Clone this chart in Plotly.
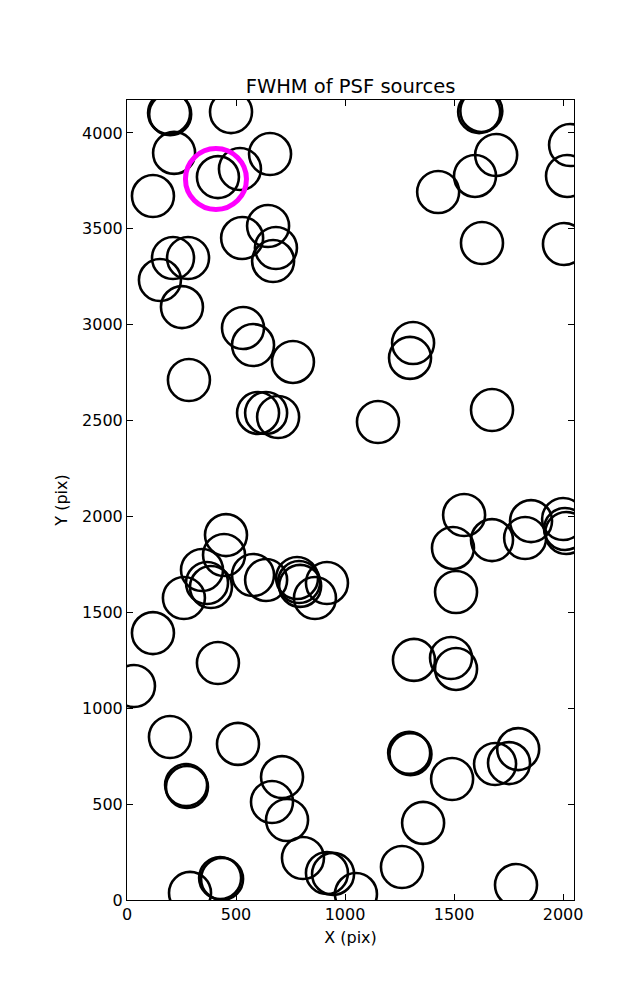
import plotly.graph_objects as go

# Source positions (pixels)
x_src = [193, 198, 477, 216, 119, 417, 518, 656, 211, 280, 151, 252, 528, 647, 683, 670,
         532, 578, 761, 284, 1615, 1625, 1693, 1596, 1427, 1628, 2032, 2018, 2004, 1312, 1298,
         601, 638, 693, 1151, 1674,
         454, 445, 344, 367, 385, 261, 578, 638, 780, 789, 794, 917, 862,
         1546, 1495, 1674, 1853, 1826, 2000, 2009, 2014, 1509,
         119, 417, 32, 197, 509, 271, 275, 711, 665, 734, 807, 917, 945, 289, 427, 436, 1050,
         1316, 1486, 1509, 1294, 1300, 1491, 1688, 1752, 1794, 1358, 1261, 1784]
y_src = [4104, 4098, 4109, 3896, 3671, 3770, 3812, 3890, 3348, 3348, 3233, 3092, 3452, 3515, 3400, 3332,
         2983, 2894, 2806, 2712, 4109, 4115, 3885, 3776, 3692, 3426, 3937, 3776, 3421, 2905, 2827,
         2540, 2540, 2519, 2493, 2555,
         1903, 1799, 1721, 1653, 1632, 1575, 1695, 1669, 1679, 1658, 1638, 1653, 1575,
         2008, 1836, 1877, 1976, 1888, 1987, 1935, 1914, 1606,
         1392, 1236, 1116, 850, 814, 600, 589, 641, 511, 417, 219, 141, 136, 37, 115, 110, 31,
         1252, 1262, 1205, 767, 760, 631, 709, 714, 787, 402, 172, 78]

# Highlighted source
x_hl = [408]
y_hl = [3760]

x_range = [0, 2050]
y_range = [0, 4172]
x_ticks = [0, 500, 1000, 1500, 2000]
y_ticks = [0, 500, 1000, 1500, 2000, 2500, 3000, 3500, 4000]

fig = go.Figure()
fig.add_trace(go.Scatter(
    x=x_src, y=y_src, mode="markers",
    marker=dict(symbol="circle-open", size=42, color="black",
                line=dict(color="black", width=2.6)),
    cliponaxis=True, showlegend=False, hoverinfo="x+y"))
fig.add_trace(go.Scatter(
    x=x_hl, y=y_hl, mode="markers",
    marker=dict(symbol="circle-open", size=61, color="#ff00ff",
                line=dict(color="#ff00ff", width=5)),
    cliponaxis=True, showlegend=False, hoverinfo="x+y"))

axis_common = dict(showgrid=False, zeroline=False, showline=True, linecolor="black",
                   linewidth=1, mirror="allticks", ticks="inside", ticklen=6,
                   tickcolor="black", tickfont=dict(family="DejaVu Sans", size=16, color="black"))

# the page body adds an 8px offset; margins compensate for it
fig.update_layout(
    width=637, height=1000,
    margin=dict(l=119, r=71, t=92, b=108, autoexpand=False),
    paper_bgcolor="white", plot_bgcolor="white",
    font=dict(family="DejaVu Sans", color="black"),
    title=dict(text="FWHM of PSF sources", x=0.5, xref="paper", xanchor="center",
               y=1 - 78 / 1000, yref="container", yanchor="middle",
               font=dict(family="DejaVu Sans", size=19.5, color="black")),
    xaxis=dict(range=x_range, tickvals=x_ticks, title=dict(text="X (pix)", standoff=8,
               font=dict(family="DejaVu Sans", size=16)), automargin=False, **axis_common),
    yaxis=dict(range=y_range, tickvals=y_ticks, title=dict(text="Y (pix)", standoff=10,
               font=dict(family="DejaVu Sans", size=16)), automargin=False, **axis_common),
)

fig.write_html("out.html")
